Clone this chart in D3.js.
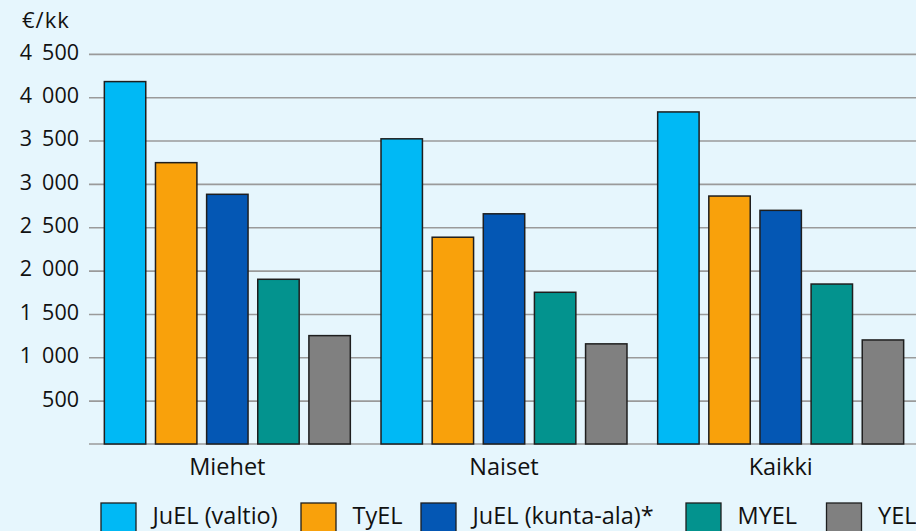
<!DOCTYPE html>
<html>
<head>
<meta charset="utf-8">
<script src="https://cdn.jsdelivr.net/npm/d3@7"></script>
<style>
  html, body { margin: 0; padding: 0; background: #E6F6FD; }
  svg { display: block; }
  text { font-family: "Open Sans", "Noto Sans", sans-serif; fill: #111; }
</style>
</head>
<body>
<svg id="chart" width="916" height="531"></svg>
<script>
// ---- data ----
const categories = ["Miehet", "Naiset", "Kaikki"];
const seriesNames = ["JuEL (valtio)", "TyEL", "JuEL (kunta-ala)*", "MYEL", "YEL"];
const juelValtio = [4180, 3520, 3830];
const tyel       = [3245, 2385, 2860];
const juelKunta  = [2880, 2655, 2695];
const myel       = [1900, 1750, 1845];
const yel        = [1250, 1155, 1200];
const tickValues = [500, 1000, 1500, 2000, 2500, 3000, 3500, 4000, 4500];
const tickLabels = ["500", "1 000", "1 500", "2 000", "2 500", "3 000", "3 500", "4 000", "4 500"];
const unitLabel = "€/kk";
const colors = ["#00B9F5", "#F9A10B", "#0457B4", "#03938E", "#808080"];

const seriesValues = [juelValtio, tyel, juelKunta, myel, yel];

// ---- layout ----
const svg = d3.select("#chart");
const W = 916, H = 531;
svg.append("rect").attr("width", W).attr("height", H).attr("fill", "#E6F6FD");

const plotLeft = 89, plotRight = 919, plotTop = 53.85, plotBottom = 444;

const y = d3.scaleLinear().domain([0, 4500]).range([plotBottom, plotTop]);
const x0 = d3.scaleBand().domain(categories).range([plotLeft, plotRight]).padding(0);
const x1 = d3.scaleBand().domain(seriesNames).range([0, x0.bandwidth()])
  .paddingInner(0.19).paddingOuter(0.3);

// gridlines + y labels
const yAxis = d3.axisLeft(y)
  .tickValues(tickValues)
  .tickFormat((d, i) => tickLabels[i])
  .tickSizeInner(-(plotRight - plotLeft))
  .tickSizeOuter(0)
  .tickPadding(10);

const gy = svg.append("g").attr("transform", `translate(${plotLeft},0)`).call(yAxis);
gy.select(".domain").remove();
gy.selectAll(".tick line").attr("stroke", "#9A9A9A").attr("stroke-width", 1.6);
gy.selectAll(".tick text")
  .attr("font-size", 21.5)
  .attr("dy", "0.25em")
  .attr("fill", "#111")
  .attr("word-spacing", 4.5)
  .style("font-family", '"Open Sans", sans-serif');

// baseline
svg.append("line")
  .attr("x1", plotLeft).attr("x2", plotRight)
  .attr("y1", y(0)).attr("y2", y(0))
  .attr("stroke", "#9A9A9A").attr("stroke-width", 1.6);

// unit label
svg.append("text")
  .attr("x", 22).attr("y", 28)
  .attr("font-size", 22)
  .attr("letter-spacing", 1)
  .text(unitLabel);

// bars
const groups = svg.append("g").selectAll("g")
  .data(categories)
  .join("g")
  .attr("transform", d => `translate(${x0(d)},0)`);

groups.selectAll("rect")
  .data((c, ci) => seriesNames.map((s, si) => ({ s, si, v: seriesValues[si][ci] })))
  .join("rect")
  .attr("x", d => x1(d.s))
  .attr("width", x1.bandwidth())
  .attr("y", d => y(d.v))
  .attr("height", d => y(0) - y(d.v))
  .attr("fill", d => colors[d.si])
  .attr("stroke", "#1E1E1E")
  .attr("stroke-width", 1.5);

// category labels
svg.append("g").selectAll("text")
  .data(categories)
  .join("text")
  .attr("x", d => x0(d) + x0.bandwidth() / 2)
  .attr("y", 475)
  .attr("text-anchor", "middle")
  .attr("font-size", 23.5)
  .text(d => d);

// legend
const legendX = [101, 301, 421, 686, 826.5];
const leg = svg.append("g").selectAll("g")
  .data(seriesNames)
  .join("g")
  .attr("transform", (d, i) => `translate(${legendX[i]},503)`);
leg.append("rect")
  .attr("width", 35).attr("height", 35)
  .attr("fill", (d, i) => colors[i])
  .attr("stroke", "#1E1E1E").attr("stroke-width", 1.3);
leg.append("text")
  .attr("x", 51.5).attr("y", 20.5)
  .attr("font-size", 23.5)
  .text(d => d);
</script>
</body>
</html>
